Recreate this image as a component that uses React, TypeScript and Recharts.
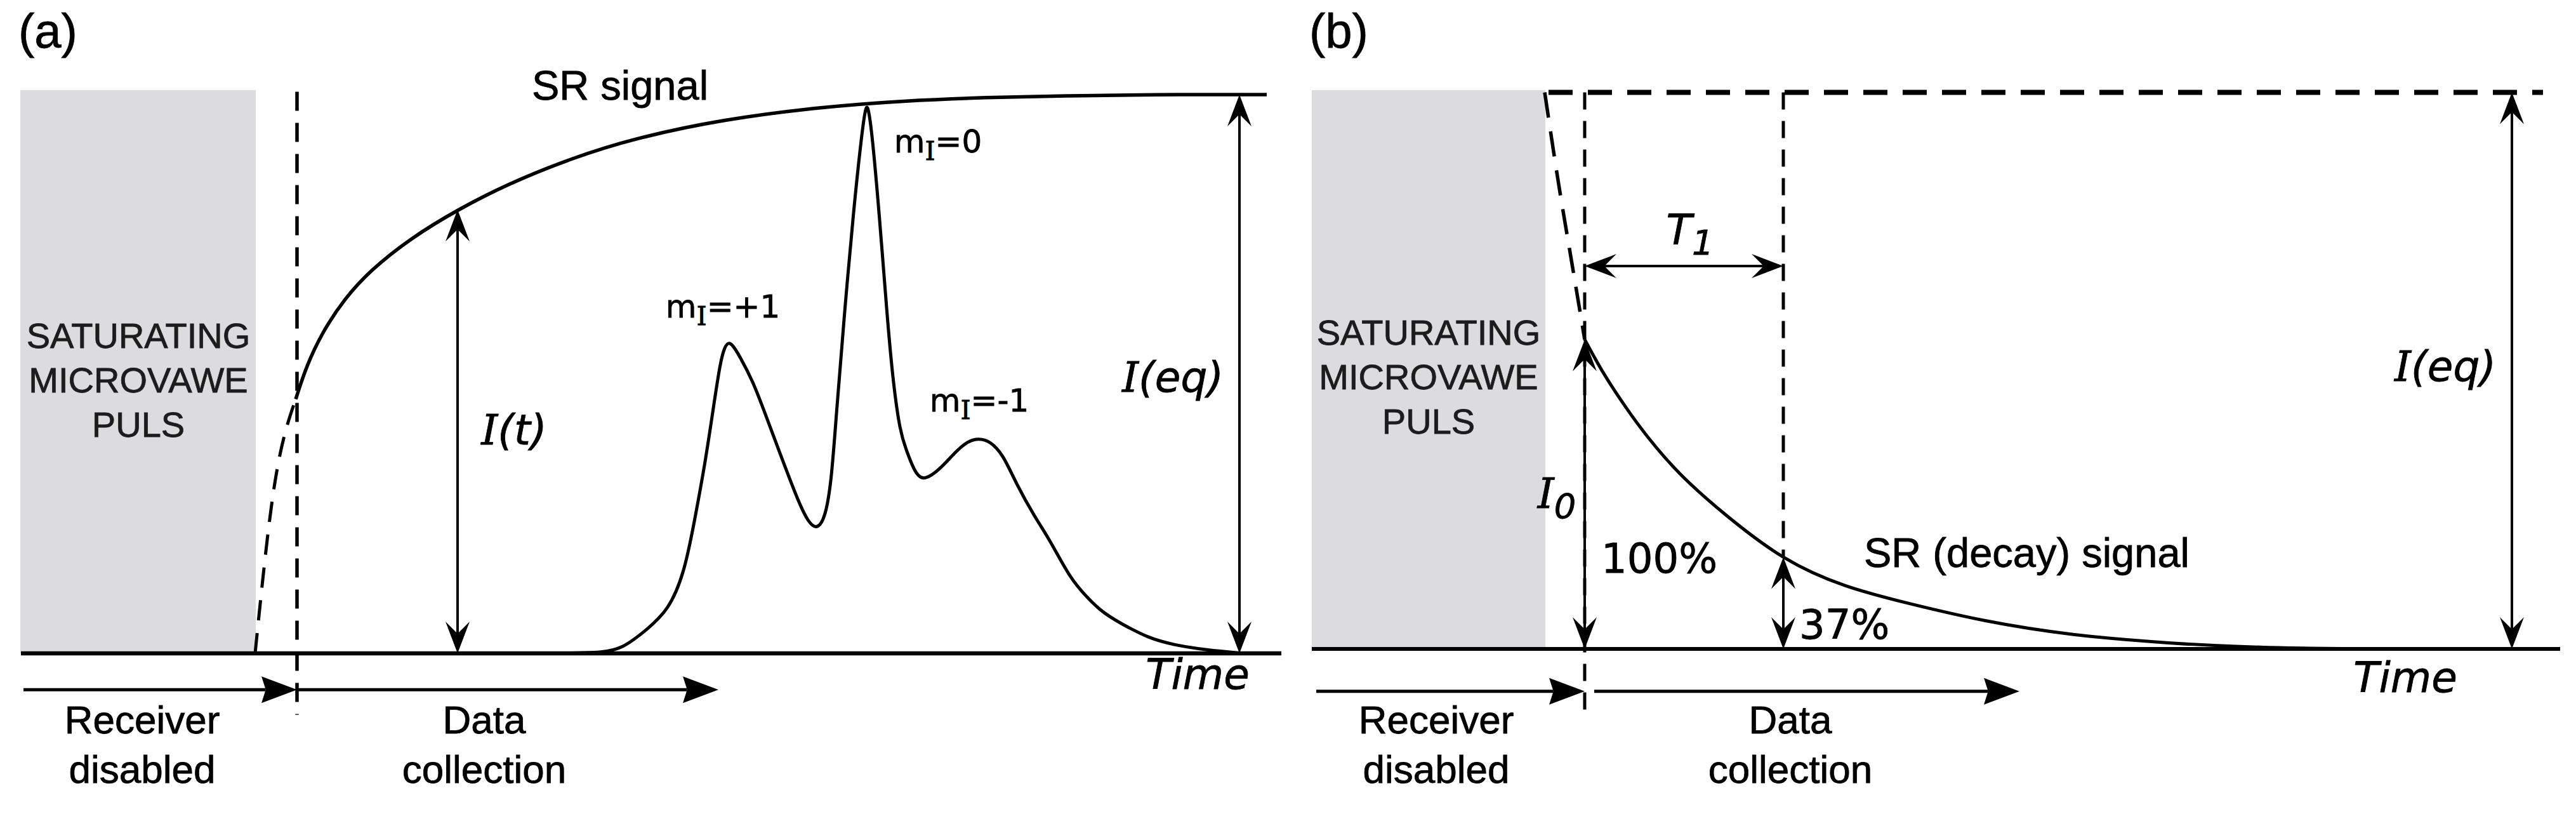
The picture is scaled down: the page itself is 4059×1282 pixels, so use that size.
import React from 'react';
import { ComposedChart, Line, XAxis, YAxis, ReferenceLine, ReferenceArea, Scatter } from 'recharts';

// ---------- Panel (a): saturation recovery ----------
// time (arbitrary units) vs intensity (% of I(eq))
const srSignalA = [
  { t: 43.3, v: 45.5 }, { t: 45, v: 51.5 }, { t: 47.5, v: 57.5 }, { t: 51, v: 63.5 },
  { t: 55, v: 68.5 }, { t: 61.4, v: 74.3 }, { t: 68.8, v: 79.4 }, { t: 76.7, v: 84 },
  { t: 86.7, v: 88.6 }, { t: 96.7, v: 92.2 }, { t: 110.7, v: 95.6 }, { t: 126.2, v: 97.8 },
  { t: 139.1, v: 98.9 }, { t: 152, v: 99.5 }, { t: 165, v: 99.8 }, { t: 178, v: 100 },
  { t: 196.3, v: 100 },
];
const srExtrapA = [{ t: 36.9, v: 0 }, { t: 39.8, v: 29 }, { t: 43.3, v: 45.5 }];
const spectrumA = [
  { t: 66.7, v: 0 }, { t: 86.7, v: 0 }, { t: 91.7, v: 0.2 }, { t: 94.7, v: 0.8 },
  { t: 98.7, v: 4.3 }, { t: 102, v: 7.7 }, { t: 104.5, v: 14.2 }, { t: 106.2, v: 24.1 },
  { t: 107.8, v: 34 }, { t: 109.1, v: 43.9 }, { t: 110.2, v: 52.2 }, { t: 110.9, v: 54.9 },
  { t: 111.5, v: 55.7 }, { t: 112.2, v: 55.1 }, { t: 113.2, v: 53.3 }, { t: 115.3, v: 48.8 },
  { t: 117.2, v: 43.1 }, { t: 119.4, v: 36.4 }, { t: 122.7, v: 26.5 }, { t: 124.2, v: 23.3 },
  { t: 125.4, v: 22.2 }, { t: 126.7, v: 24.1 }, { t: 127.7, v: 30.6 }, { t: 128.5, v: 43.1 },
  { t: 129.7, v: 60.1 }, { t: 131.2, v: 79.4 }, { t: 132.5, v: 93.1 }, { t: 133, v: 97 },
  { t: 133.3, v: 98.1 }, { t: 133.6, v: 97 }, { t: 134.1, v: 93.1 }, { t: 135.2, v: 79.4 },
  { t: 136.5, v: 60.1 }, { t: 137.4, v: 48.8 }, { t: 138.5, v: 39.7 }, { t: 139.5, v: 36.4 },
  { t: 140.7, v: 32.8 }, { t: 142, v: 30.7 }, { t: 144.7, v: 32.8 }, { t: 147.1, v: 35.9 },
  { t: 149.2, v: 38 }, { t: 150.9, v: 38.5 }, { t: 152.7, v: 38 }, { t: 154.8, v: 35.5 },
  { t: 156.7, v: 30.6 }, { t: 159.9, v: 24.1 }, { t: 161.7, v: 21.1 }, { t: 165, v: 14.2 },
  { t: 166.7, v: 11.6 }, { t: 170.1, v: 7.5 }, { t: 173.4, v: 5.3 }, { t: 177.7, v: 2.7 },
  { t: 181.7, v: 1.5 }, { t: 186.7, v: 0.6 }, { t: 192.7, v: 0 },
];
const pulseA = { t1: -0.1, t2: 37, v1: 0, v2: 100.8 };
const axisA = { t1: 0, t2: 198.6 };
const deadTimeA = { t: 43.5, vTop: 100.5, vBottom: -11 };
const arrowsA = [
  { x1: 68.8, y1: 0, x2: 68.8, y2: 79.4, heads: 'both', kind: 'measure' },
  { x1: 192, y1: 0, x2: 192, y2: 100, heads: 'both', kind: 'measure' },
  { x1: 0.4, y1: -6.5, x2: 43.5, y2: -6.5, heads: 'end', kind: 'time' },
  { x1: 43.5, y1: -6.5, x2: 109.9, y2: -6.5, heads: 'end', kind: 'time' },
];
const labelsA = [
  { t: -0.4, v: 108.4, kind: 'panel', text: '(a)' },
  { t: 94.4, v: 99.1, kind: 'sans', text: 'SR signal' },
  { t: 18.5, v: 54.7, kind: 'pulse', text: 'SATURATING\nMICROVAWE\nPULS' },
  { t: 77.7, v: 37.4, kind: 'ital', text: 'I(t)' },
  { t: 110.6, v: 60.1, kind: 'mI', text: 'm_I=+1' },
  { t: 144.5, v: 89.7, kind: 'mI', text: 'm_I=0' },
  { t: 151, v: 43.3, kind: 'mI', text: 'm_I=-1' },
  { t: 181.5, v: 46.8, kind: 'ital', text: 'I(eq)' },
  { t: 185.4, v: -6.4, kind: 'ital', text: 'Time' },
  { t: 19.1, v: -14.3, kind: 'phase', text: 'Receiver\ndisabled' },
  { t: 73, v: -14.3, kind: 'phase', text: 'Data\ncollection' },
];

// ---------- Panel (b): saturation recovery decay ----------
const decayB = [
  { t: 43, v: 55.6 }, { t: 46, v: 49.5 }, { t: 49.5, v: 43.4 }, { t: 53, v: 38 },
  { t: 58, v: 31.5 }, { t: 65, v: 24.3 }, { t: 74.3, v: 16.5 }, { t: 84, v: 11.4 },
  { t: 94, v: 8.2 }, { t: 106, v: 5.1 }, { t: 120, v: 2.6 }, { t: 135, v: 1.1 },
  { t: 150, v: 0.3 }, { t: 168, v: 0 },
];
const decayExtrapB = [{ t: 36.7, v: 100 }, { t: 38.9, v: 83.5 }, { t: 41, v: 69.2 }, { t: 43, v: 55.6 }];
const pulseB = { t1: 0, t2: 36.8, v1: 0, v2: 100.4 };
const axisB = { t1: 0, t2: 196.7 };
const eqLineB = { t1: 37.3, t2: 194, v: 100 };
const deadTimeB = { t: 43, vTop: 100, vBottom: -11.9 };
const t1MarkB = { t: 74.3, vTop: 100, vBottom: 16.5 };
const arrowsB = [
  { x1: 43, y1: 0, x2: 43, y2: 55.6, heads: 'both', kind: 'measure' },
  { x1: 74.3, y1: 0, x2: 74.3, y2: 16.5, heads: 'both', kind: 'measure' },
  { x1: 43, y1: 68.8, x2: 74.3, y2: 68.8, heads: 'both', kind: 'measure' },
  { x1: 189.1, y1: 0, x2: 189.1, y2: 100, heads: 'both', kind: 'measure' },
  { x1: 0.7, y1: -7.6, x2: 43, y2: -7.6, heads: 'end', kind: 'time' },
  { x1: 44.5, y1: -7.6, x2: 111.5, y2: -7.6, heads: 'end', kind: 'time' },
];
const labelsB = [
  { t: -0.4, v: 108, kind: 'panel', text: '(b)' },
  { t: 18.4, v: 54.6, kind: 'pulse', text: 'SATURATING\nMICROVAWE\nPULS' },
  { t: 59.6, v: 72.7, kind: 'ital', text: 'T_1' },
  { t: 38.6, v: 25.3, kind: 'ital', text: 'I_0' },
  { t: 45.6, v: 13.7, kind: 'pct', text: '100%' },
  { t: 76.8, v: 1.8, kind: 'pct', text: '37%' },
  { t: 87, v: 14.7, kind: 'decay', text: 'SR (decay) signal' },
  { t: 178.6, v: 48.1, kind: 'ital', text: 'I(eq)' },
  { t: 172.3, v: -7.8, kind: 'ital', text: 'Time' },
  { t: 19.6, v: -15.2, kind: 'phase', text: 'Receiver\ndisabled' },
  { t: 75.4, v: -15.2, kind: 'phase', text: 'Data\ncollection' },
];

// ---------- styles ----------
const SANS = "'Liberation Sans', Arial, sans-serif";
const VERD = "'DejaVu Sans', Verdana, sans-serif";
const SERIF = "'DejaVu Serif', serif";
const TEXT_STYLES: Record<string, any> = {
  panel: { family: SANS, size: 76, anchor: 'start', lh: 0, italic: false },
  sans: { family: SANS, size: 65, anchor: 'middle', lh: 0, italic: false },
  pulse: { family: SANS, size: 56, anchor: 'middle', lh: 70, italic: false, fill: '#1c1c1c' },
  phase: { family: SANS, size: 62, anchor: 'middle', lh: 78, italic: false },
  ital: { family: VERD, size: 66, anchor: 'middle', lh: 0, italic: true },
  mI: { family: VERD, size: 50, anchor: 'middle', lh: 0, italic: false },
  pct: { family: VERD, size: 64, anchor: 'start', lh: 0, italic: false },
  decay: { family: SANS, size: 65, anchor: 'start', lh: 0, italic: false },
};
const ARROW_STYLE: Record<string, any> = {
  measure: { w: 4, L: 50, W: 19, notch: 0.62 },
  time: { w: 5, L: 56, W: 21, notch: 0.88 },
};

function headPath(tx: number, ty: number, ux: number, uy: number, s: any) {
  const bx = tx - ux * s.L, by = ty - uy * s.L;
  const nx = -uy, ny = ux;
  const mx = tx - ux * s.L * s.notch, my = ty - uy * s.L * s.notch;
  return `M${tx},${ty} L${bx + nx * s.W},${by + ny * s.W} L${mx},${my} L${bx - nx * s.W},${by - ny * s.W} Z`;
}

function arrowShape(heads: string, kind: string) {
  return (p: any) => {
    const x1 = Number(p.x1), y1 = Number(p.y1), x2 = Number(p.x2), y2 = Number(p.y2);
    const s = ARROW_STYLE[kind];
    const len = Math.hypot(x2 - x1, y2 - y1) || 1;
    const ux = (x2 - x1) / len, uy = (y2 - y1) / len;
    const hs = heads !== 'end';
    const he = heads !== 'start';
    const a = hs ? s.L * s.notch : 0;
    const b = he ? s.L * s.notch : 0;
    return (
      <g>
        <line x1={x1 + ux * a} y1={y1 + uy * a} x2={x2 - ux * b} y2={y2 - uy * b} stroke="#000" strokeWidth={s.w} />
        {he && <path d={headPath(x2, y2, ux, uy, s)} fill="#000" />}
        {hs && <path d={headPath(x1, y1, -ux, -uy, s)} fill="#000" />}
      </g>
    );
  };
}

function renderRich(text: string, st: any, kind: string) {
  // "_X" marks a one-character subscript; a leading "I" in italic labels is a serif italic I
  const parts: React.ReactNode[] = [];
  let i = 0;
  let key = 0;
  let pendingDy = 0;
  const fs = st.size;
  const shift = fs * 0.24;
  while (i < text.length) {
    const ch = text[i];
    if (ch === '_' && i + 1 < text.length) {
      const sub = text[i + 1];
      parts.push(
        <tspan key={key++} dy={shift + pendingDy} fontSize={fs * 0.82}
          fontFamily={kind === 'mI' ? SERIF : st.family}>{sub}</tspan>
      );
      pendingDy = -shift;
      i += 2;
      continue;
    }
    if (kind === 'ital' && ch === 'I' && i === 0) {
      parts.push(<tspan key={key++} fontFamily={SERIF}>I</tspan>);
      i += 1;
      continue;
    }
    let j = i;
    while (j < text.length && text[j] !== '_' && !(kind === 'ital' && j === 0 && text[j] === 'I')) j++;
    parts.push(<tspan key={key++} dy={pendingDy || undefined}>{text.slice(i, j)}</tspan>);
    pendingDy = 0;
    i = j;
  }
  return parts;
}

function renderLabel(p: any) {
  const { cx, cy, payload } = p;
  if (cx == null || cy == null || !payload) return <g />;
  const st = TEXT_STYLES[payload.kind];
  const lines = String(payload.text).split('\n');
  const fill = st.fill || '#000';
  return (
    <text x={cx} y={cy} textAnchor={st.anchor} fontFamily={st.family} fontSize={st.size}
      fontStyle={st.italic ? 'italic' : 'normal'} fill={fill} stroke={fill} strokeWidth={0.8}>
      {lines.length > 1
        ? lines.map((ln, k) => (
          <tspan key={k} x={cx} dy={k === 0 ? 0 : st.lh}>{ln}</tspan>
        ))
        : renderRich(lines[0], st, payload.kind)}
    </text>
  );
}

const PANEL_H = 1282;

function PanelA() {
  return (
    <ComposedChart width={2030} height={PANEL_H} margin={{ top: 0, right: 0, bottom: 0, left: 0 }}>
      <XAxis type="number" dataKey="t" domain={[-3.3, 199.7]} hide allowDataOverflow />
      <YAxis type="number" dataKey="v" domain={[-28.75, 116.93]} hide allowDataOverflow />
      <ReferenceArea x1={pulseA.t1} x2={pulseA.t2} y1={pulseA.v1} y2={pulseA.v2}
        fill="#dcdcde" fillOpacity={1} stroke="none" ifOverflow="visible" />
      <ReferenceLine segment={[{ x: axisA.t1, y: 0 }, { x: axisA.t2, y: 0 }]}
        stroke="#000" strokeWidth={6.5} ifOverflow="visible" />
      <ReferenceLine segment={[{ x: deadTimeA.t, y: deadTimeA.vTop }, { x: deadTimeA.t, y: deadTimeA.vBottom }]}
        stroke="#000" strokeWidth={5.5} strokeDasharray="30 19" ifOverflow="visible" />
      <Line data={srExtrapA} dataKey="v" type="monotone" stroke="#000" strokeWidth={5}
        strokeDasharray="32 20" dot={false} activeDot={false} isAnimationActive={false} />
      <Line data={srSignalA} dataKey="v" type="basis" stroke="#000" strokeWidth={5.5}
        dot={false} activeDot={false} isAnimationActive={false} />
      <Line data={spectrumA} dataKey="v" type="basis" stroke="#000" strokeWidth={5}
        dot={false} activeDot={false} isAnimationActive={false} />
      {arrowsA.map((a, k) => (
        <ReferenceLine key={'aa' + k} segment={[{ x: a.x1, y: a.y1 }, { x: a.x2, y: a.y2 }]}
          stroke="#000" ifOverflow="visible" shape={arrowShape(a.heads, a.kind)} />
      ))}
      <Scatter data={labelsA} dataKey="v" shape={renderLabel} isAnimationActive={false} legendType="none" />
    </ComposedChart>
  );
}

function PanelB() {
  return (
    <ComposedChart width={2029} height={PANEL_H} margin={{ top: 0, right: 0, bottom: 0, left: 0 }}>
      <XAxis type="number" dataKey="t" domain={[-3.7, 199.2]} hide allowDataOverflow />
      <YAxis type="number" dataKey="v" domain={[-29.66, 116.6]} hide allowDataOverflow />
      <ReferenceArea x1={pulseB.t1} x2={pulseB.t2} y1={pulseB.v1} y2={pulseB.v2}
        fill="#dcdcde" fillOpacity={1} stroke="none" ifOverflow="visible" />
      <ReferenceLine segment={[{ x: axisB.t1, y: 0 }, { x: axisB.t2, y: 0 }]}
        stroke="#000" strokeWidth={6} ifOverflow="visible" />
      <ReferenceLine segment={[{ x: eqLineB.t1, y: eqLineB.v }, { x: eqLineB.t2, y: eqLineB.v }]}
        stroke="#000" strokeWidth={8} strokeDasharray="38 24" ifOverflow="visible" />
      <ReferenceLine segment={[{ x: deadTimeB.t, y: deadTimeB.vTop }, { x: deadTimeB.t, y: deadTimeB.vBottom }]}
        stroke="#000" strokeWidth={5} strokeDasharray="27 18" ifOverflow="visible" />
      <ReferenceLine segment={[{ x: t1MarkB.t, y: t1MarkB.vTop }, { x: t1MarkB.t, y: t1MarkB.vBottom }]}
        stroke="#000" strokeWidth={5} strokeDasharray="27 18" ifOverflow="visible" />
      <Line data={decayExtrapB} dataKey="v" type="monotone" stroke="#000" strokeWidth={5.5}
        strokeDasharray="40 22" dot={false} activeDot={false} isAnimationActive={false} />
      <Line data={decayB} dataKey="v" type="natural" stroke="#000" strokeWidth={5}
        dot={false} activeDot={false} isAnimationActive={false} />
      {arrowsB.map((a, k) => (
        <ReferenceLine key={'ab' + k} segment={[{ x: a.x1, y: a.y1 }, { x: a.x2, y: a.y2 }]}
          stroke="#000" ifOverflow="visible" shape={arrowShape(a.heads, a.kind)} />
      ))}
      <Scatter data={labelsB} dataKey="v" shape={renderLabel} isAnimationActive={false} legendType="none" />
    </ComposedChart>
  );
}

export default function App() {
  return (
    <div style={{ position: 'absolute', left: 0, top: 0, width: 4059, height: 1282, background: '#fff', display: 'flex' }}>
      <PanelA />
      <PanelB />
    </div>
  );
}
